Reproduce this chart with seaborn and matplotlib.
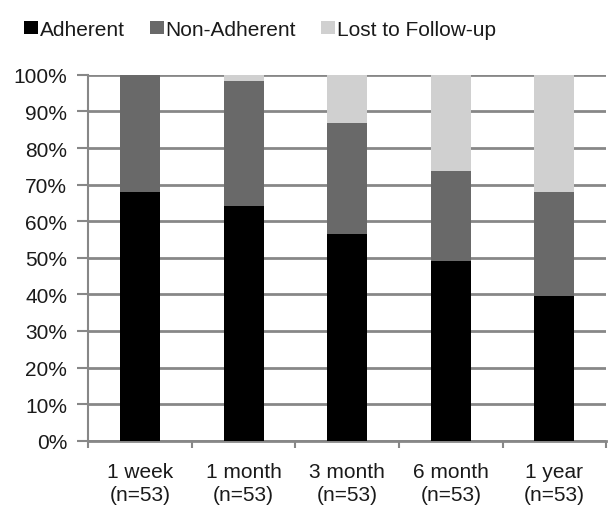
import matplotlib
matplotlib.use("Agg")
import matplotlib.pyplot as plt
from matplotlib.patches import Patch
from matplotlib.ticker import FixedLocator, PercentFormatter
import seaborn as sns
import pandas as pd
import numpy as np

# Patient status at each follow-up visit (percent of n=53)
timepoints = ["1 week\n(n=53)", "1 month\n(n=53)", "3 month\n(n=53)",
              "6 month\n(n=53)", "1 year\n(n=53)"]
adherent = [67.9, 64.2, 56.6, 49.1, 39.6]
non_adherent = [32.1, 34.0, 30.2, 24.5, 28.3]
lost = [0.0, 1.8, 13.2, 26.4, 32.1]

series_names = ["Adherent", "Non-Adherent", "Lost to Follow-up"]
series_colors = ["#000000", "#696969", "#d0d0d0"]

sns.set_theme(style="white")
plt.rcParams["font.family"] = ["Liberation Sans", "DejaVu Sans"]

df = pd.DataFrame({"time": timepoints, "Adherent": adherent,
                   "Non-Adherent": non_adherent, "Lost to Follow-up": lost})
cum = df[series_names].cumsum(axis=1)

fig = plt.figure(figsize=(6.08, 5.06), dpi=100)
ax = fig.add_axes([0.145, 0.127, 0.852, 0.723])

# Stacked bars: draw cumulative totals from the top layer down
for name, color in reversed(list(zip(series_names, series_colors))):
    sns.barplot(x=df["time"], y=cum[name], color=color, width=0.385,
                ax=ax, saturation=1, edgecolor="none", linewidth=0, zorder=3)

ax.set_ylim(0, 100)
ax.set_xlim(-0.5, len(timepoints) - 0.5)
ax.yaxis.set_major_locator(FixedLocator(np.arange(0, 101, 10)))
ax.yaxis.set_major_formatter(PercentFormatter(decimals=0))
ax.set_xlabel("")
ax.set_ylabel("")

grid_color = "#878787"
text_color = "#1a1a1a"
fs = 15
ax.grid(axis="y", color=grid_color, linewidth=2, zorder=0)
for side in ["top", "right"]:
    ax.spines[side].set_visible(False)
ax.spines["left"].set_color(grid_color)
ax.spines["left"].set_linewidth(1.5)
ax.spines["bottom"].set_color(grid_color)
ax.spines["bottom"].set_linewidth(2)

ax.tick_params(axis="y", left=True, length=8, width=1.5, color=grid_color,
               labelsize=fs, labelcolor=text_color, pad=7)
ax.tick_params(axis="x", which="major", bottom=False, labelsize=fs,
               labelcolor=text_color, pad=9)
ax.xaxis.set_minor_locator(FixedLocator(np.arange(-0.5, len(timepoints), 1.0)))
ax.tick_params(axis="x", which="minor", bottom=True, length=5, width=1.5,
               color=grid_color)
for lbl in ax.get_xticklabels():
    lbl.set_linespacing(1.3)

handles = [Patch(facecolor=c, edgecolor="none") for c in series_colors]
fig.legend(handles, series_names, loc="upper left", bbox_to_anchor=(0.006, 1.0),
           ncol=3, frameon=False, fontsize=fs, handlelength=0.65,
           handleheight=0.65, handletextpad=0.1, columnspacing=1.2,
           borderpad=0.5, labelcolor=text_color)

fig.savefig("out.png", dpi=100, facecolor="white")
